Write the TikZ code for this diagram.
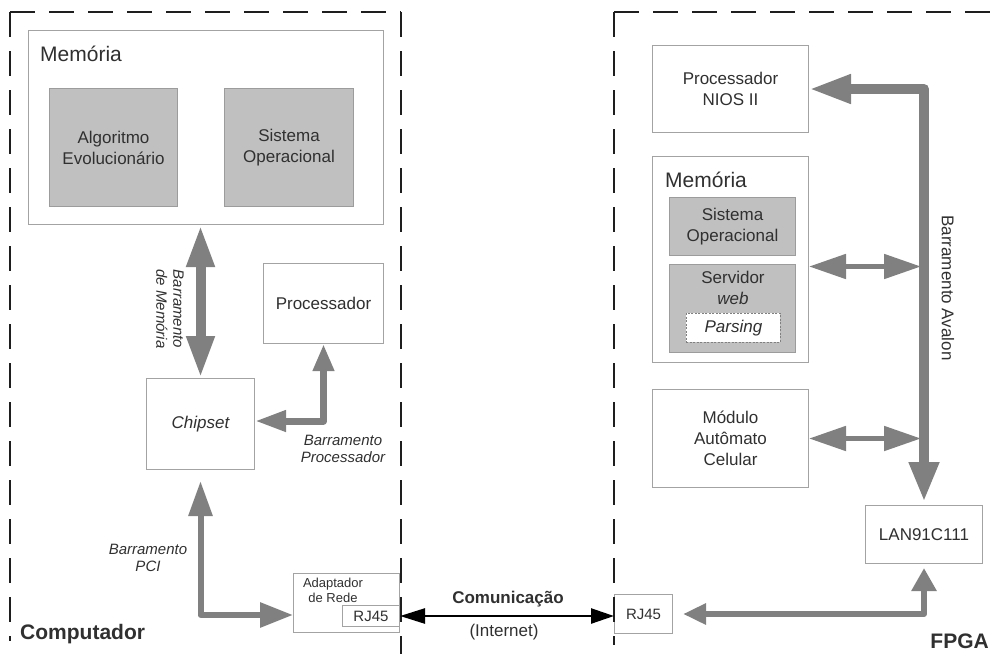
\documentclass[tikz,border=0pt]{standalone}
\usepackage{fontspec}
\setmainfont{Liberation Sans}
\usetikzlibrary{arrows.meta,calc}

\definecolor{ink}{HTML}{303030}
\definecolor{frame}{HTML}{A3A3A3}
\definecolor{shade}{HTML}{C0C0C0}
\definecolor{shadeline}{HTML}{9C9C9C}
\definecolor{busgray}{HTML}{808080}
\definecolor{regionline}{HTML}{1E1E1E}

\newcommand\txtN{\fontsize{17}{21}\selectfont}
\newcommand\txtS{\fontsize{15}{17}\selectfont}
\newcommand\txtXS{\fontsize{13}{15}\selectfont}
\newcommand\txtL{\fontsize{21}{25}\selectfont}

\tikzset{
  whitebox/.style={draw=frame, line width=1pt, fill=white, inner sep=0pt,
    align=center, anchor=north west, text=ink, font=\txtN},
  graybox/.style={whitebox, fill=shade, draw=shadeline},
  region/.style={draw=regionline, line width=2pt, dash pattern=on 25pt off 14pt},
  bus/.style={draw=busgray, line width=#1, line join=round},
  lbl/.style={inner sep=0pt, text=ink, align=center},
}

\begin{document}
\begin{tikzpicture}[x=1pt,y=-1pt]
\useasboundingbox (0,0) rectangle (992,654);

% ---------- Computador ----------
\node[whitebox, minimum width=355pt, minimum height=194pt] (memL) at (28,30) {};
\node[lbl, font=\txtL, anchor=base west] (memLtxt) at (40,61) {Memória};
\node[graybox, minimum width=128pt, minimum height=118pt] (algo) at (49,88) {Algoritmo\\Evolucionário};
\node[graybox, minimum width=129pt, minimum height=118pt] (sisL) at (224,88) {Sistema\\Operacional};
\node[whitebox, minimum width=120pt, minimum height=80pt] (procL) at (263,263) {Processador};
\node[whitebox, minimum width=108pt, minimum height=91pt, font=\txtN\itshape] (chip) at (146,378) {Chipset};
\node[whitebox, minimum width=106pt, minimum height=59pt] (adap) at (293,573) {};
\node[lbl, font=\txtXS] (adapTxt) at (333,590) {Adaptador\\de Rede};
\node[whitebox, minimum width=57pt, minimum height=21pt, font=\txtS] (rjL) at (342,605) {RJ45};

% ---------- FPGA ----------
\node[whitebox, minimum width=156pt, minimum height=87pt] (nios) at (652,45) {Processador\\NIOS II};
\node[whitebox, minimum width=156pt, minimum height=206pt] (memR) at (652,156) {};
\node[lbl, font=\txtL, anchor=base west] (memRtxt) at (665,187) {Memória};
\node[graybox, minimum width=126pt, minimum height=58pt] (sisR) at (669,197) {Sistema\\Operacional};
\node[graybox, minimum width=126pt, minimum height=88pt] (serv) at (669,264) {};
\node[lbl, font=\txtN] (servTxt) at (733,288) {Servidor\\\textit{web}};
\node[whitebox, draw=gray, line width=0.8pt, dash pattern=on 2pt off 1.5pt,
      minimum width=94pt, minimum height=29pt, font=\txtN\itshape] (pars) at (686,313) {Parsing};
\node[whitebox, minimum width=156pt, minimum height=98pt] (mod) at (652,389) {Módulo\\Autômato\\Celular};
\node[whitebox, minimum width=117pt, minimum height=58pt] (lan) at (865,505) {LAN91C111};
\node[whitebox, minimum width=58pt, minimum height=39pt, font=\txtS] (rjR) at (614,594) {RJ45};

% ---------- dashed regions ----------
\coordinate (cA) at (10,12);
\coordinate (cB) at (401,12);
\coordinate (cC) at (614,12);
\draw[region] (cA) -- (10,641);
\draw[region] (cA) -- (cB);
\draw[region] (cB) -- (401,654);
\draw[region] (cC) -- (614,645);
\draw[region] (cC) -- (992,12);

% ---------- buses ----------
\draw[bus=10pt, {Triangle[length=42pt,width=26pt]}-{Triangle[length=42pt,width=26pt]}]
  (memL.south -| chip.north) -- (chip.north);

\coordinate (procTap) at ($(chip.east)+(0,-3)$);
\draw[bus=7pt, {Triangle[length=31pt,width=20pt]}-{Triangle[length=27pt,width=20pt]}]
  (procTap) -- (procTap -| procL.south) -- (procL.south);

\coordinate (pciEnd) at ($(adap.west)+(0,12)$);
\draw[bus=6pt, shorten <=11pt, {Triangle[length=35pt,width=23pt]}-{Triangle[length=33pt,width=24pt]}]
  (chip.south) -- (chip.south |- pciEnd) -- (pciEnd);

\draw[line width=2.5pt, draw=black, {Triangle[length=25pt,width=15pt]}-{Triangle[length=23pt,width=15pt]}]
  (rjL.east) -- (rjL.east -| rjR.west);

\draw[bus=10pt, shorten >=3pt, {Triangle[length=42pt,width=27pt]}-{Triangle[length=40pt,width=28pt]}]
  (nios.east) -- (nios.east -| lan.north) -- (lan.north);

\coordinate (memTap) at ($(memR.east)+(0,7)$);
\draw[bus=5pt, shorten >=3pt, {Triangle[length=37pt,width=24pt]}-{Triangle[length=37pt,width=24pt]}]
  (memTap) -- (memTap -| lan.north);

\draw[bus=5pt, shorten >=3pt, {Triangle[length=37pt,width=24pt]}-{Triangle[length=37pt,width=24pt]}]
  (mod.east) -- (mod.east -| lan.north);

\draw[bus=6pt, shorten <=10pt, shorten >=4pt, {Triangle[length=23pt,width=20pt]}-{Triangle[length=23pt,width=24pt]}]
  (rjR.east) -- (rjR.east -| lan.south) -- (lan.south);

% ---------- labels ----------
\node[lbl, font=\txtS\itshape, rotate=-90] (lblMem) at (170,309) {Barramento\\de Memória};
\node[lbl, font=\txtS\itshape] (lblProc) at (343,449) {Barramento\\Processador};
\node[lbl, font=\txtS\itshape] (lblPCI) at (148,558) {Barramento\\PCI};
\node[lbl, font=\txtN, rotate=-90] (lblAva) at (948,288) {Barramento Avalon};
\node[lbl, font=\txtN\bfseries, anchor=base] (lblComm) at (508,603) {Comunicação};
\node[lbl, font=\txtN, anchor=base] (lblNet) at (504,636) {(Internet)};
\node[lbl, font=\txtL\bfseries, anchor=base west] (lblPC) at (20,639) {Computador};
\node[lbl, font=\txtL\bfseries, anchor=base east] (lblFPGA) at (989,648) {FPGA};
\end{tikzpicture}
\end{document}
